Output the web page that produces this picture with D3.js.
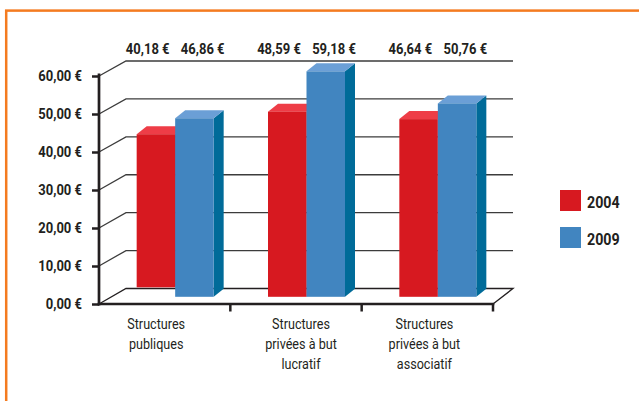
<!DOCTYPE html>
<html>
<head>
<meta charset="utf-8">
<script src="https://cdn.jsdelivr.net/npm/d3@7"></script>
<style>
  html, body { margin: 0; padding: 0; background: #fff; }
  svg { display: block; }
  text { font-family: Roboto, "Liberation Sans", sans-serif; fill: #231f20; }
</style>
</head>
<body>
<svg id="chart" width="639" height="401"></svg>
<script>
// Average cost per structure type, 2004 vs 2009
const categories = [
  ["Structures", "publiques"],
  ["Structures", "privées à but", "lucratif"],
  ["Structures", "privées à but", "associatif"]
];
const series = ["2004", "2009"];
const values2004 = [40.18, 48.59, 46.64];
const values2009 = [46.86, 59.18, 50.76];
const yTicks = [0, 10, 20, 30, 40, 50, 60];

const colors = {
  "2004": { front: "#d71920", top: "#ee3d47", side: "#a9141a" },
  "2009": { front: "#4185c0", top: "#6b9fd6", side: "#006b99" }
};

const fr = d3.formatLocale({ decimal: ",", thousands: " ", grouping: [3], currency: ["", " €"] });
const euro = fr.format("$.2f");

const sx = 0.84; // condensed look for all labels

const svg = d3.select("#chart");

// Draws a horizontally condensed label anchored at (x, y)
function label(parent, x, y, str, opts) {
  const g = parent.append("g").attr("transform", `translate(${x},${y})`);
  const t = g.append("text")
    .attr("transform", `scale(${sx},1)`)
    .attr("text-anchor", opts.anchor || "middle")
    .attr("font-size", opts.size)
    .attr("font-weight", opts.weight || "normal");
  if (Array.isArray(str)) {
    str.forEach((line, k) => t.append("tspan").attr("x", 0).attr("y", k * opts.lineHeight).text(line));
  } else {
    t.text(str);
  }
  return g;
}

// Frame
svg.append("rect")
  .attr("x", 6.2).attr("y", 10.6)
  .attr("width", 700).attr("height", 500)
  .attr("fill", "none").attr("stroke", "#f47b20").attr("stroke-width", 2.5);

// Scales: front plane (axis), back wall, and the plane the bars stand on
const yFront = d3.scaleLinear().domain([0, 60]).range([304, 76]);
const yBack = d3.scaleLinear().domain([0, 60]).range([288.5, 61]);
const yBar = d3.scaleLinear().domain([0, 60]).range([296.8, 68.2]);
const x = d3.scaleBand().domain(d3.range(categories.length)).range([99, 493]);
const backLeft = 126, backRight = 513;
const barShift = 10.5;      // bars sit slightly behind the front plane
const barW = 38.5;
const dx = 10, dy = -8;     // 3D extrusion of each bar
const lift = [[9.5, 0], [0, 0], [0, 0]]; // first red bar rests on the back edge of the floor

// Back wall gridlines
const grid = svg.append("g");
yTicks.filter(v => v > 0).forEach(v => {
  grid.append("path")
    .attr("d", `M99,${yFront(v)}L${backLeft},${yBack(v)}L${backRight},${yBack(v)}`)
    .attr("fill", "none").attr("stroke", "#3c3c3c").attr("stroke-width", 1.3);
});

// Floor
svg.append("path")
  .attr("d", `M99,${yFront(0)}L${backLeft},${yBack(0)}L${backRight},${yBack(0)}L493,${yFront(0)}`)
  .attr("fill", "none").attr("stroke", "#231f20").attr("stroke-width", 1.3);

// Bars
const bars = svg.append("g");
categories.forEach((c, i) => {
  const center = x(i) + x.bandwidth() / 2 + barShift;
  [values2004[i], values2009[i]].forEach((v, s) => {
    const col = colors[series[s]];
    const x0 = center - barW + s * barW;
    const yb = yBar(0) - lift[i][s];
    const yt = yBar(v) - lift[i][s];
    const g = bars.append("g");
    g.append("path")
      .attr("d", `M${x0 + barW},${yt}L${x0 + barW + dx},${yt + dy}L${x0 + barW + dx},${yb + dy}L${x0 + barW},${yb}Z`)
      .attr("fill", col.side);
    g.append("path")
      .attr("d", `M${x0},${yt}L${x0 + dx},${yt + dy}L${x0 + barW + dx},${yt + dy}L${x0 + barW},${yt}Z`)
      .attr("fill", col.top);
    g.append("rect")
      .attr("x", x0).attr("y", yt)
      .attr("width", barW).attr("height", yb - yt)
      .attr("fill", col.front);
  });

  // Value labels above each group
  [values2004[i], values2009[i]].forEach((v, s) => {
    label(svg, center + (s === 0 ? -27.5 : 27.5), 53.5, euro(v), { size: 15.5, weight: "bold" });
  });
});

// Y axis
const yAxis = d3.axisLeft(yFront).tickValues(yTicks).tickSize(7).tickSizeOuter(0).tickFormat(euro);
const ya = svg.append("g").attr("transform", "translate(99,0)").call(yAxis);
ya.attr("font-family", null).attr("font-size", null);
ya.select(".domain").remove();
ya.selectAll(".tick line").attr("stroke", "#231f20").attr("stroke-width", 2.5);
ya.selectAll(".tick text")
  .attr("x", -17 / sx)
  .attr("transform", `scale(${sx},1)`)
  .attr("font-size", 15.5).attr("font-weight", "bold")
  .attr("fill", "#231f20");
svg.append("line")
  .attr("x1", 99).attr("x2", 99).attr("y1", 73.5).attr("y2", 305.5)
  .attr("stroke", "#231f20").attr("stroke-width", 2.7);

// X axis
svg.append("line")
  .attr("x1", 97.7).attr("x2", 494.3).attr("y1", 304).attr("y2", 304)
  .attr("stroke", "#231f20").attr("stroke-width", 2.7);
d3.range(1, categories.length + 1).forEach(i => {
  const xt = x(i - 1) + x.bandwidth();
  svg.append("line")
    .attr("x1", xt).attr("x2", xt).attr("y1", 304).attr("y2", 311.5)
    .attr("stroke", "#231f20").attr("stroke-width", 2.5);
});

// Category labels
const labelNudge = [-8.5, 5, -3];
categories.forEach((lines, i) => {
  label(svg, x(i) + x.bandwidth() / 2 + labelNudge[i], 329, lines, { size: 15, lineHeight: 20.2 });
});

// Legend
series.forEach((s, k) => {
  svg.append("rect")
    .attr("x", 560).attr("y", 190 + k * 37)
    .attr("width", 21).attr("height", 21)
    .attr("fill", colors[s].front);
  label(svg, 587, 207.5 + k * 37, s, { size: 17, weight: "bold", anchor: "start" });
});
</script>
</body>
</html>
